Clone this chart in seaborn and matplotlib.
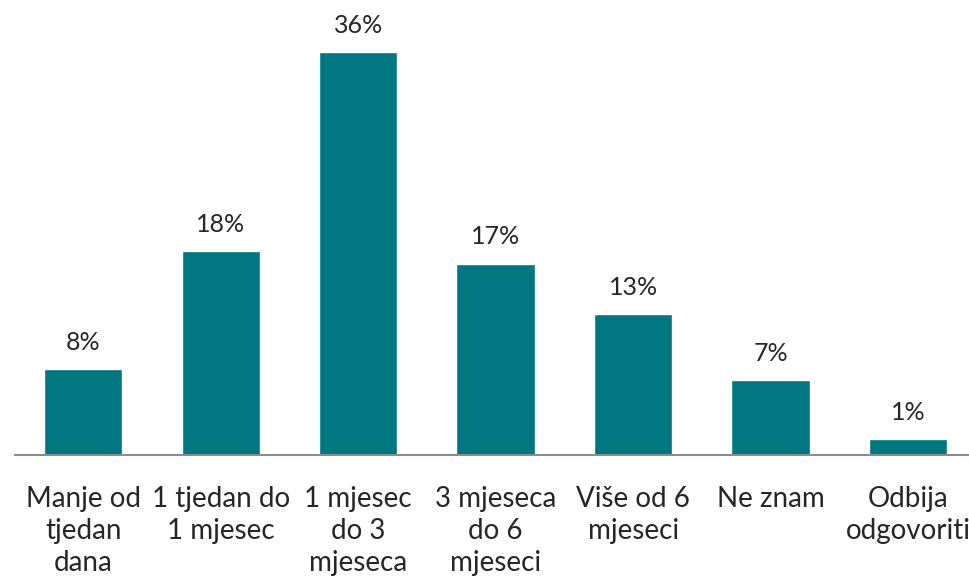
import matplotlib
matplotlib.use('Agg')
import matplotlib.pyplot as plt
import seaborn as sns
import pandas as pd

# kategorije i udjeli (visine očitane sa slike, oznake zaokružene)
categories = ['Manje od\ntjedan\ndana', '1 tjedan do\n1 mjesec', '1 mjesec\ndo 3\nmjeseca',
              '3 mjeseca\ndo 6\nmjeseci', 'Više od 6\nmjeseci', 'Ne znam', 'Odbija\nodgovoriti']
values = [7.7, 18.2, 36.0, 17.1, 12.6, 6.7, 1.4]

df = pd.DataFrame({'cat': categories, 'val': values})

sns.set_style('white')
plt.rcParams['font.family'] = ['Lato', 'DejaVu Sans']

fig = plt.figure(figsize=(9.7, 5.8), dpi=100)
ax = fig.add_axes([0.015, 0.2155, 0.992, 0.772])

sns.barplot(data=df, x='cat', y='val', color='#007780', width=0.57,
            saturation=1, ax=ax)

for c in ax.containers:
    ax.bar_label(c, labels=[f'{v:.0f}%' for v in values], padding=11,
                 fontsize=18, color='#262626')

ax.set_ylim(0, 40)
ax.set_xlim(-0.5, 6.5)
ax.set_xlabel('')
ax.set_ylabel('')
ax.set_yticks([])
for s in ['top', 'right', 'left']:
    ax.spines[s].set_visible(False)
ax.spines['bottom'].set_color('#8c8c8c')
ax.spines['bottom'].set_linewidth(1.5)
ax.tick_params(axis='x', length=0, pad=22, labelsize=20, labelcolor='#262626')
for t in ax.get_xticklabels():
    t.set_linespacing(1.3)
    t.set_verticalalignment('top')

fig.savefig('out.png', dpi=100)
